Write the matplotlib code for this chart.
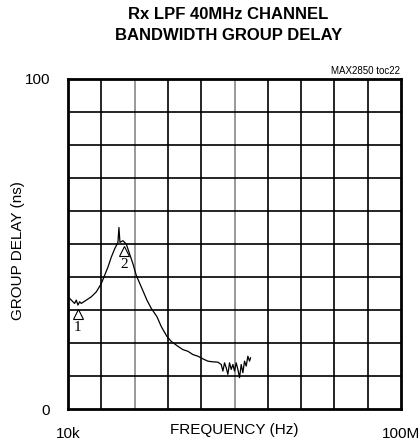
import matplotlib
matplotlib.use("Agg")
import matplotlib.pyplot as plt
import numpy as np

# group delay trace (frequency in MHz, delay in ns)
freq_mhz = [0.01, 1.0, 2.0, 2.5, 3.0, 3.5, 4.0, 5.5, 7.0, 8.5, 10.0, 11.0, 12.0, 13.0, 14.0,
            15.0, 15.3, 15.6, 16.5, 17.5, 18.5, 19.5, 20.5, 22.0, 23.7, 25.0, 26.7, 28.0,
            29.7, 31.0, 33.0, 34.5, 36.0, 37.5, 39.0, 40.5, 42.0, 43.5, 45.0, 46.0, 46.5,
            47.0, 47.5, 48.0, 48.5, 49.0, 49.5, 50.0, 50.5, 51.0, 51.5, 52.0, 52.5, 53.0,
            53.5, 54.0, 54.5, 54.8]
delay_ns = [34.0, 33.0, 32.0, 33.0, 31.5, 32.5, 32.0, 33.0, 34.0, 35.5, 38.0, 40.5, 43.0,
            46.0, 48.5, 50.5, 55.0, 50.5, 51.0, 50.0, 47.0, 44.0, 40.5, 37.0, 33.0, 30.5,
            28.0, 25.0, 22.0, 20.5, 19.0, 18.0, 17.5, 16.5, 16.0, 15.2, 14.5, 14.3, 14.2,
            13.5, 11.5, 14.0, 12.5, 10.5, 14.0, 12.0, 13.5, 11.5, 14.0, 12.0, 9.5, 13.5,
            11.0, 14.5, 13.0, 16.0, 14.5, 15.5]

# markers (frequency MHz, delay ns, label)
marker_mhz = [3.0, 16.8]
marker_ns = [30.0, 49.0]
marker_labels = ["1", "2"]

x_min, x_max = 10e3, 100e6
y_min, y_max = 0, 100

sans = ["Liberation Sans Narrow", "Liberation Sans"]

fig = plt.figure(figsize=(4.19, 4.43), dpi=100)
ax = fig.add_axes([0.1623, 0.0767, 0.795, 0.745])

freq = np.array(freq_mhz) * 1e6
ax.plot(freq, delay_ns, color="black", lw=0.9)

for fm, d, lab in zip(marker_mhz, marker_ns, marker_labels):
    ax.plot(fm * 1e6, d - 1.2, marker="^", ms=7, mfc="white", mec="black", mew=0.8)
    ax.text(fm * 1e6, d - 3.2, lab, ha="center", va="top", fontsize=11,
            family="Liberation Serif")

ax.set_xlim(x_min, x_max)
ax.set_ylim(y_min, y_max)

xgrid = np.linspace(x_min, x_max, 11)
ygrid = np.linspace(y_min, y_max, 11)
for i, xv in enumerate(xgrid[1:-1], start=1):
    col = "#888888" if i in (2, 5) else "black"
    ax.axvline(xv, color=col, lw=1.2, zorder=0)
for yv in ygrid[1:-1]:
    ax.axhline(yv, color="black", lw=1.2, zorder=0)

ax.set_xticks([x_min, x_max])
ax.set_xticklabels(["10k", "100M"])
ax.set_yticks([y_min, y_max])
ax.set_yticklabels(["0", "100"])
ax.tick_params(length=0, labelsize=11, pad=13)
for lab in ax.get_xticklabels() + ax.get_yticklabels():
    lab.set_family(sans)

for sp in ax.spines.values():
    sp.set_linewidth(2)

ax.set_xlabel("FREQUENCY (Hz)", fontsize=11, family=sans, labelpad=-13)
fig.text(18 / 419, 1 - 251 / 443, "GROUP DELAY (ns)", rotation=90, ha="center", va="center",
         fontsize=11, family=sans)

fig.text(0.545, 0.985, "Rx LPF 40MHz CHANNEL\nBANDWIDTH GROUP DELAY", ha="center", va="top",
         fontsize=12, fontweight="bold", linespacing=1.5, family=sans)
fig.text(0.955, 0.828, "MAX2850 toc22", ha="right", va="bottom", fontsize=7, family=sans)

fig.savefig("out.png", dpi=100)
